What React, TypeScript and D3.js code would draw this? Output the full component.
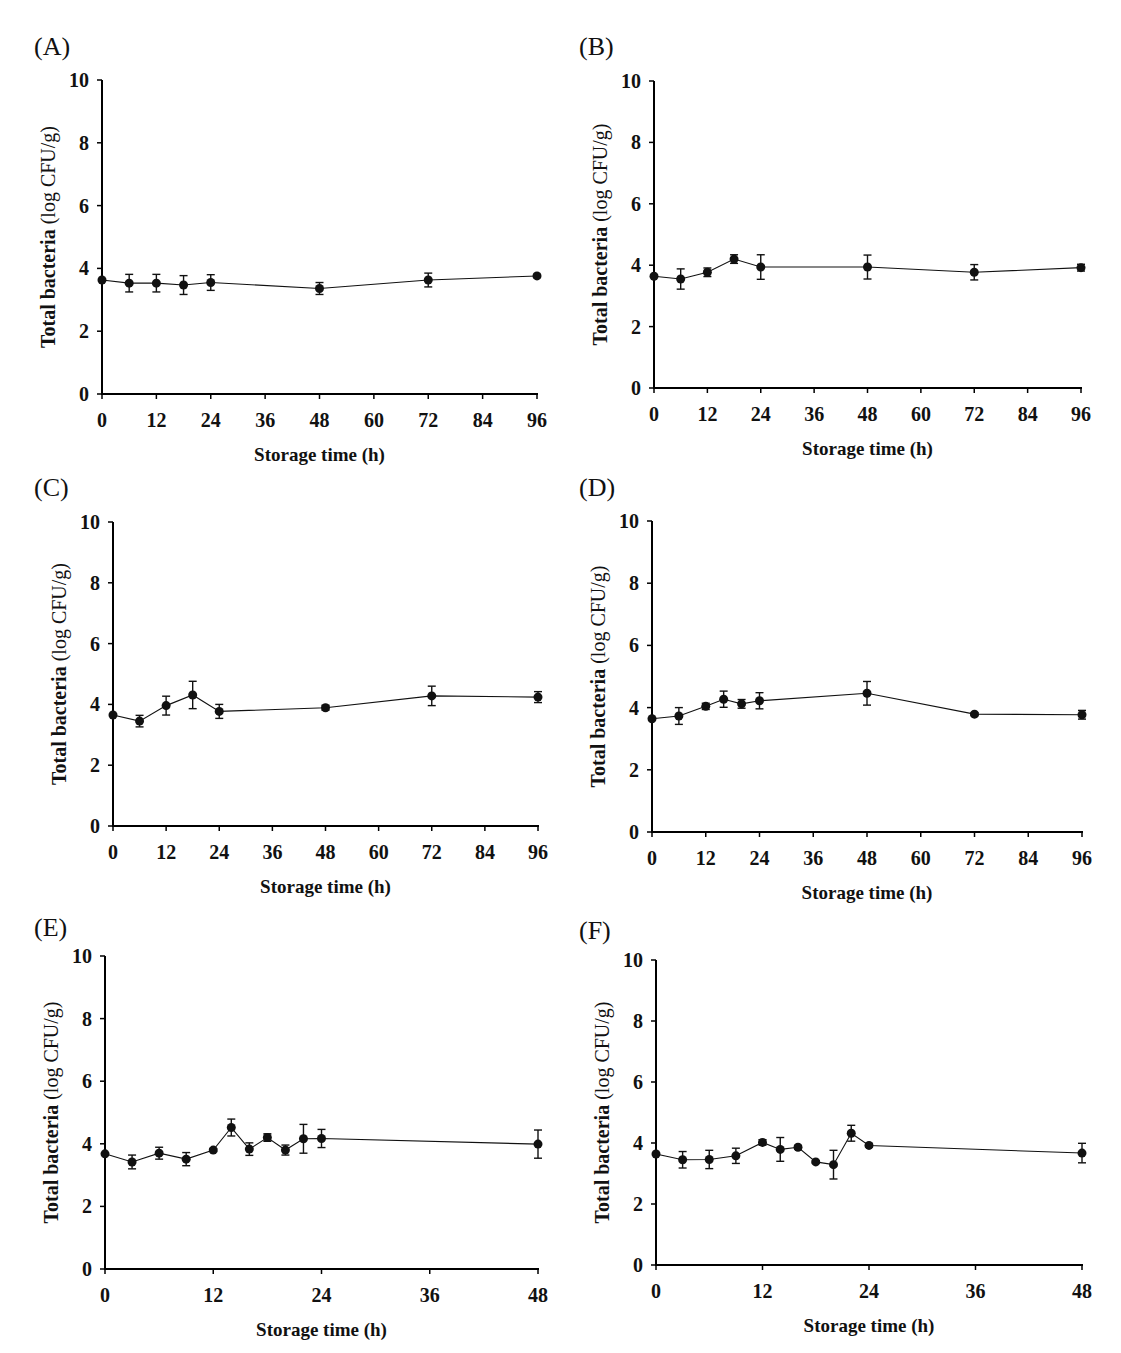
import React from "react";
import * as d3 from "d3";

// ---------- DATA ----------
const yTicks = [0, 2, 4, 6, 8, 10];
const xTicks96 = [0, 12, 24, 36, 48, 60, 72, 84, 96];
const xTicks48 = [0, 12, 24, 36, 48];

const timesA = [0, 6, 12, 18, 24, 48, 72, 96];
const meansA = [3.63, 3.53, 3.53, 3.47, 3.55, 3.36, 3.63, 3.76];
const errA = [0.03, 0.28, 0.28, 0.3, 0.25, 0.19, 0.22, 0.05];

const timesB = [0, 6, 12, 18, 24, 48, 72, 96];
const meansB = [3.64, 3.55, 3.77, 4.2, 3.94, 3.94, 3.77, 3.92];
const errB = [0.03, 0.33, 0.14, 0.14, 0.4, 0.39, 0.25, 0.11];

const timesC = [0, 6, 12, 18, 24, 48, 72, 96];
const meansC = [3.65, 3.45, 3.96, 4.31, 3.77, 3.89, 4.28, 4.24];
const errC = [0.03, 0.19, 0.31, 0.45, 0.23, 0.08, 0.32, 0.18];

const timesD = [0, 6, 12, 16, 20, 24, 48, 72, 96];
const meansD = [3.64, 3.73, 4.04, 4.27, 4.12, 4.22, 4.46, 3.79, 3.77];
const errD = [0.03, 0.27, 0.1, 0.26, 0.14, 0.26, 0.38, 0.05, 0.14];

const timesE = [0, 3, 6, 9, 12, 14, 16, 18, 20, 22, 24, 48];
const meansE = [3.68, 3.42, 3.7, 3.51, 3.8, 4.52, 3.83, 4.2, 3.8, 4.16, 4.17, 3.99];
const errE = [0.03, 0.22, 0.19, 0.21, 0.05, 0.27, 0.2, 0.12, 0.16, 0.46, 0.29, 0.45];

const timesF = [0, 3, 6, 9, 12, 14, 16, 18, 20, 22, 24, 48];
const meansF = [3.64, 3.45, 3.46, 3.58, 4.02, 3.79, 3.86, 3.38, 3.29, 4.32, 3.92, 3.67];
const errF = [0.03, 0.27, 0.3, 0.25, 0.09, 0.39, 0.06, 0.03, 0.47, 0.26, 0.05, 0.32];

const panelLetters = ["(A)", "(B)", "(C)", "(D)", "(E)", "(F)"];
const xTitle = "Storage time (h)";
const yTitleBold = "Total bacteria ";
const yTitleRegular = "(log CFU/g)";

// ---------- LAYOUT ----------
const layouts = [
  { x0: 102, x1: 537, y0: 394, y10: 80, lx: 34, ly: 55 },
  { x0: 654, x1: 1081, y0: 388, y10: 81, lx: 579, ly: 55 },
  { x0: 113, x1: 538, y0: 826, y10: 522, lx: 34, ly: 496 },
  { x0: 652, x1: 1082, y0: 832, y10: 521, lx: 579, ly: 496 },
  { x0: 105, x1: 538, y0: 1269, y10: 956, lx: 34, ly: 936 },
  { x0: 656, x1: 1082, y0: 1265, y10: 960, lx: 579, ly: 939 },
];

const FONT = "'Liberation Serif', 'Times New Roman', serif";

type PanelProps = {
  times: number[];
  means: number[];
  errs: number[];
  xTicks: number[];
  xMax: number;
  layout: (typeof layouts)[number];
  letter: string;
};

function Panel({ times, means, errs, xTicks, xMax, layout, letter }: PanelProps) {
  const x = d3.scaleLinear().domain([0, xMax]).range([layout.x0, layout.x1]);
  const y = d3.scaleLinear().domain([0, 10]).range([layout.y0, layout.y10]);
  const pts = times.map((t, i) => ({ t, m: means[i], e: errs[i] }));
  const line = d3
    .line<{ t: number; m: number }>()
    .x((d) => x(d.t))
    .y((d) => y(d.m));
  const cap = 4;
  const midY = (layout.y0 + layout.y10) / 2;
  const midX = (layout.x0 + layout.x1) / 2;
  return (
    <g>
      <text x={layout.lx} y={layout.ly} fontFamily={FONT} fontSize={26} fill="#111">
        {letter}
      </text>
      {/* axes */}
      <line x1={layout.x0} x2={layout.x0} y1={y(10)} y2={y(0)} stroke="#000" strokeWidth={2} />
      <line x1={layout.x0 - 1} x2={layout.x1 + 1} y1={y(0)} y2={y(0)} stroke="#000" strokeWidth={2.2} />
      {yTicks.map((v) => (
        <g key={"y" + v}>
          <line x1={layout.x0 - 5} x2={layout.x0} y1={y(v)} y2={y(v)} stroke="#000" strokeWidth={1.5} />
          <text
            x={layout.x0 - 13}
            y={y(v)}
            dy="0.35em"
            textAnchor="end"
            fontFamily={FONT}
            fontWeight="bold"
            fontSize={20}
            fill="#111"
          >
            {v}
          </text>
        </g>
      ))}
      {xTicks.map((v) => (
        <g key={"x" + v}>
          <line x1={x(v)} x2={x(v)} y1={y(0)} y2={y(0) + 5} stroke="#000" strokeWidth={1.5} />
          <text
            x={x(v)}
            y={y(0) + 26}
            dy="0.35em"
            textAnchor="middle"
            fontFamily={FONT}
            fontWeight="bold"
            fontSize={20}
            fill="#111"
          >
            {v}
          </text>
        </g>
      ))}
      <text
        x={midX}
        y={y(0) + 60}
        dy="0.35em"
        textAnchor="middle"
        fontFamily={FONT}
        fontWeight="bold"
        fontSize={19}
        fill="#111"
      >
        {xTitle}
      </text>
      <text
        transform={`translate(${layout.x0 - 54},${midY}) rotate(-90)`}
        dy="0.35em"
        textAnchor="middle"
        fontFamily={FONT}
        fontSize={20}
        fill="#111"
      >
        <tspan fontWeight="bold">{yTitleBold}</tspan>
        <tspan>{yTitleRegular}</tspan>
      </text>
      {/* series */}
      <path d={line(pts) || ""} fill="none" stroke="#111" strokeWidth={1.1} />
      {pts.map((p, i) => (
        <g key={"p" + i}>
          <line x1={x(p.t)} x2={x(p.t)} y1={y(p.m - p.e)} y2={y(p.m + p.e)} stroke="#111" strokeWidth={1.4} />
          <line x1={x(p.t) - cap} x2={x(p.t) + cap} y1={y(p.m + p.e)} y2={y(p.m + p.e)} stroke="#111" strokeWidth={1.4} />
          <line x1={x(p.t) - cap} x2={x(p.t) + cap} y1={y(p.m - p.e)} y2={y(p.m - p.e)} stroke="#111" strokeWidth={1.4} />
          <circle cx={x(p.t)} cy={y(p.m)} r={4.5} fill="#111" />
        </g>
      ))}
    </g>
  );
}

export default function App() {
  const series = [
    { times: timesA, means: meansA, errs: errA, xTicks: xTicks96, xMax: 96 },
    { times: timesB, means: meansB, errs: errB, xTicks: xTicks96, xMax: 96 },
    { times: timesC, means: meansC, errs: errC, xTicks: xTicks96, xMax: 96 },
    { times: timesD, means: meansD, errs: errD, xTicks: xTicks96, xMax: 96 },
    { times: timesE, means: meansE, errs: errE, xTicks: xTicks48, xMax: 48 },
    { times: timesF, means: meansF, errs: errF, xTicks: xTicks48, xMax: 48 },
  ];
  return (
    <svg
      width={1121}
      height={1353}
      style={{ position: "absolute", left: 0, top: 0, background: "#fff" }}
    >
      <rect x={0} y={0} width={1121} height={1353} fill="#fff" />
      {series.map((s, i) => (
        <Panel key={i} {...s} layout={layouts[i]} letter={panelLetters[i]} />
      ))}
    </svg>
  );
}
